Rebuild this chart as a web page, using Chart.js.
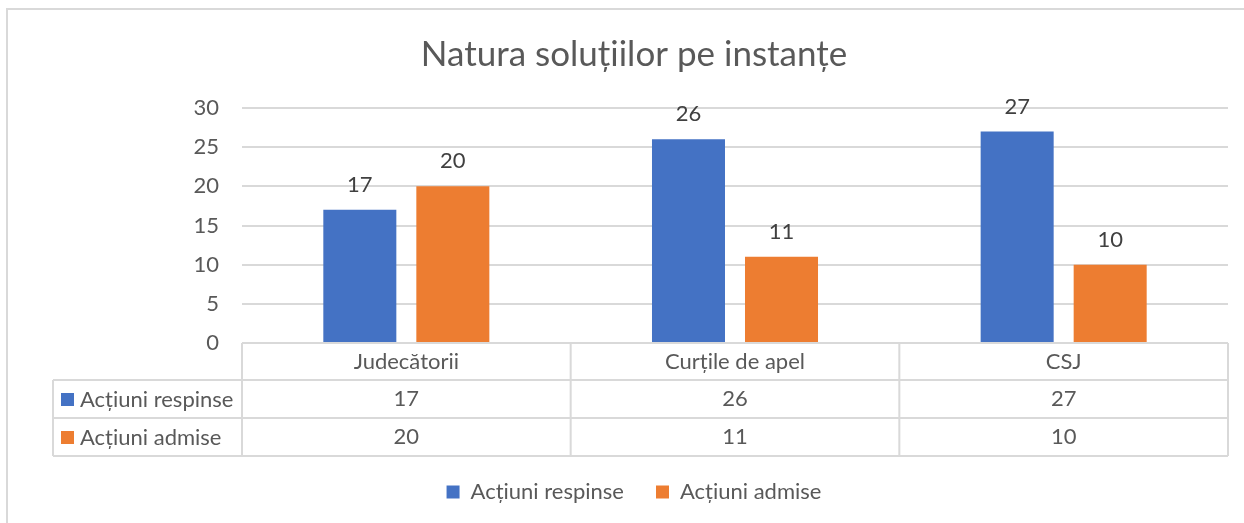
<!DOCTYPE html>
<html>
<head>
<meta charset="utf-8">
<script src="https://cdn.jsdelivr.net/npm/chart.js@4.4.0/dist/chart.umd.min.js"></script>
<style>
  html, body { margin: 0; padding: 0; background: #fff; }
  #wrap { width: 1244px; height: 523px; position: relative; }
</style>
</head>
<body>
<div id="wrap"><canvas id="c" width="1244" height="523"></canvas></div>
<script>
const chartTitle = 'Natura soluțiilor pe instanțe';
const categories = ['Judecătorii', 'Curțile de apel', 'CSJ'];
const seriesNames = ['Acțiuni respinse', 'Acțiuni admise'];
const respinse = [17, 26, 27];
const admise = [20, 11, 10];
const yTicks = [0, 5, 10, 15, 20, 25, 30];

const FONT = 'Lato, "Open Sans", sans-serif';
const FS = 22;
const COLORS = ['#4472C4', '#ED7D31'];
const TEXT = '#595959';
const LINE = '#d9d9d9';

const frame = {
  id: 'frame',
  beforeDraw(chart) {
    const ctx = chart.ctx;
    ctx.save();
    ctx.strokeStyle = LINE;
    ctx.lineWidth = 2;
    ctx.beginPath();
    ctx.moveTo(7, 523);
    ctx.lineTo(7, 9);
    ctx.lineTo(1244, 9);
    ctx.stroke();
    ctx.restore();
  }
};

const valueLabels = {
  id: 'valueLabels',
  afterDatasetsDraw(chart) {
    const ctx = chart.ctx;
    ctx.save();
    ctx.font = FS + 'px ' + FONT;
    ctx.fillStyle = '#404040';
    ctx.textAlign = 'center';
    ctx.textBaseline = 'middle';
    chart.data.datasets.forEach((ds, di) => {
      chart.getDatasetMeta(di).data.forEach((bar, i) => {
        ctx.fillText(String(ds.data[i]), bar.x, bar.y - 25);
      });
    });
    ctx.restore();
  }
};

const dataTable = {
  id: 'dataTable',
  afterDraw(chart) {
    const ctx = chart.ctx;
    const xs = chart.scales.x;
    const area = chart.chartArea;
    const y0 = area.bottom, y1 = y0 + 37, y2 = y1 + 38, y3 = y2 + 38;
    const left = 53;
    const n = categories.length;
    const step = (area.right - area.left) / n;
    ctx.save();
    ctx.strokeStyle = LINE;
    ctx.lineWidth = 2;
    ctx.beginPath();
    ctx.moveTo(area.left, y0); ctx.lineTo(area.right, y0);
    [y1, y2, y3].forEach(y => { ctx.moveTo(left, y); ctx.lineTo(area.right, y); });
    ctx.moveTo(left, y1); ctx.lineTo(left, y3);
    for (let i = 0; i <= n; i++) {
      const x = area.left + step * i;
      ctx.moveTo(x, y0); ctx.lineTo(x, y3);
    }
    ctx.stroke();

    ctx.font = FS + 'px ' + FONT;
    ctx.fillStyle = TEXT;
    ctx.textAlign = 'center';
    ctx.textBaseline = 'middle';
    categories.forEach((c, i) => {
      const cx = xs.getPixelForValue(i);
      ctx.fillText(c, cx, (y0 + y1) / 2);
      ctx.fillText(String(respinse[i]), cx, (y1 + y2) / 2);
      ctx.fillText(String(admise[i]), cx, (y2 + y3) / 2);
    });
    ctx.textAlign = 'left';
    [[y1, y2], [y2, y3]].forEach((r, k) => {
      const cy = (r[0] + r[1]) / 2;
      ctx.fillStyle = COLORS[k];
      ctx.fillRect(61, cy - 6, 13, 13);
      ctx.fillStyle = TEXT;
      ctx.fillText(seriesNames[k], 80, cy + 1);
    });
    ctx.restore();
  }
};

new Chart(document.getElementById('c'), {
  type: 'bar',
  data: {
    labels: categories,
    datasets: [
      { label: seriesNames[0], data: respinse, backgroundColor: COLORS[0] },
      { label: seriesNames[1], data: admise, backgroundColor: COLORS[1] }
    ]
  },
  options: {
    responsive: false,
    animation: false,
    events: [],
    layout: { padding: { left: 40, right: 16, top: 0, bottom: 10 } },
    categoryPercentage: 0.566,
    barPercentage: 0.785,
    plugins: {
      title: {
        display: true,
        text: chartTitle,
        color: TEXT,
        font: { family: FONT, size: 35, weight: 'normal', lineHeight: 1.2 },
        padding: { top: 34, bottom: 32 }
      },
      legend: {
        position: 'bottom',
        labels: {
          color: TEXT,
          font: { family: FONT, size: FS },
          boxWidth: 13,
          boxHeight: 13,
          padding: 32
        }
      },
      tooltip: { enabled: false }
    },
    scales: {
      x: {
        grid: { display: false },
        border: { display: false },
        ticks: { display: false },
        afterFit(scale) { scale.height = 106; }
      },
      y: {
        min: 0,
        max: 30,
        afterBuildTicks(scale) { scale.ticks = yTicks.map(v => ({ value: v })); },
        grid: { color: LINE, lineWidth: 2, drawTicks: false },
        border: { display: false },
        ticks: { color: TEXT, font: { family: FONT, size: FS }, padding: 23 },
        afterFit(scale) { scale.width = 202; }
      }
    }
  },
  plugins: [frame, valueLabels, dataTable]
});
</script>
</body>
</html>
